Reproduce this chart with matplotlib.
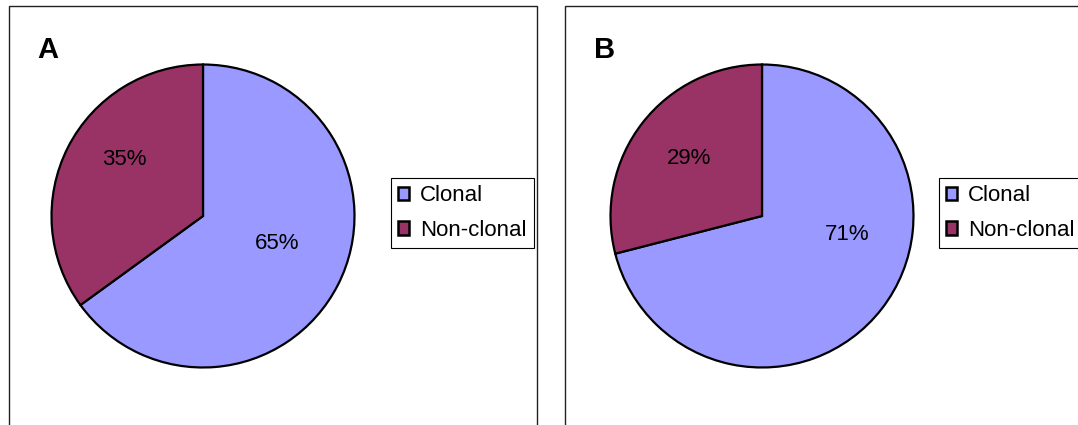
import matplotlib
matplotlib.use("Agg")
import matplotlib.pyplot as plt
from matplotlib.patches import Rectangle, Patch

plt.rcParams['font.family'] = ['Liberation Sans', 'DejaVu Sans']

categories = ["Clonal", "Non-clonal"]
values_a = [65, 35]
values_b = [71, 29]
panel_labels = ["A", "B"]
colors = ["#9999FF", "#993366"]

W, H = 1078, 425
fig = plt.figure(figsize=(W / 100, H / 100), dpi=100)

# background layer in pixel coordinates for panel frames
bg = fig.add_axes([0, 0, 1, 1])
bg.set_xlim(0, W)
bg.set_ylim(H, 0)
bg.axis("off")
for x0, x1 in [(9, 537), (565, 1100)]:
    bg.add_patch(Rectangle((x0, 6), x1 - x0, 500, fill=False, edgecolor="#222222", linewidth=1.0))

def px_box(cx, cy, r):
    return [(cx - r) / W, (H - cy - r) / H, 2 * r / W, 2 * r / H]

panels = [
    (values_a, panel_labels[0], 203, 216, 48, 50, [(0.49, -0.18), (-0.52, 0.37)], 391),
    (values_b, panel_labels[1], 762, 216, 605, 50, [(0.56, -0.12), (-0.48, 0.38)], 939),
]

for vals, lab, cx, cy, lx, ly, label_pos, legx in panels:
    r = 153
    ax = fig.add_axes(px_box(cx, cy, r))
    wedges, texts, autotexts = ax.pie(
        vals, colors=colors, startangle=90, counterclock=False,
        autopct=lambda p: f"{p:.0f}%", pctdistance=0.55,
        wedgeprops=dict(edgecolor="black", linewidth=1.6),
        textprops=dict(fontsize=16, color="black"),
    )
    for t, (tx, ty) in zip(autotexts, label_pos):
        t.set_position((tx, ty))
    ax.set_xlim(-1.01, 1.01)
    ax.set_ylim(-1.01, 1.01)
    ax.set_aspect("equal")
    bg.text(lx, ly, lab, fontsize=21, fontweight="bold", ha="center", va="center")
    handles = [Patch(facecolor=c, edgecolor="black", linewidth=1.8) for c in colors]
    leg = fig.legend(handles, categories, loc="upper left",
                     bbox_to_anchor=(legx / W, (H - 178) / H),
                     fontsize=16, frameon=True, fancybox=False, shadow=False,
                     framealpha=1, edgecolor="black",
                     handlelength=0.5, handleheight=0.55, handletextpad=0.5,
                     labelspacing=0.62, borderpad=0.32, borderaxespad=0)
    leg.get_frame().set_linewidth(0.8)

fig.savefig("out.png", dpi=100)
